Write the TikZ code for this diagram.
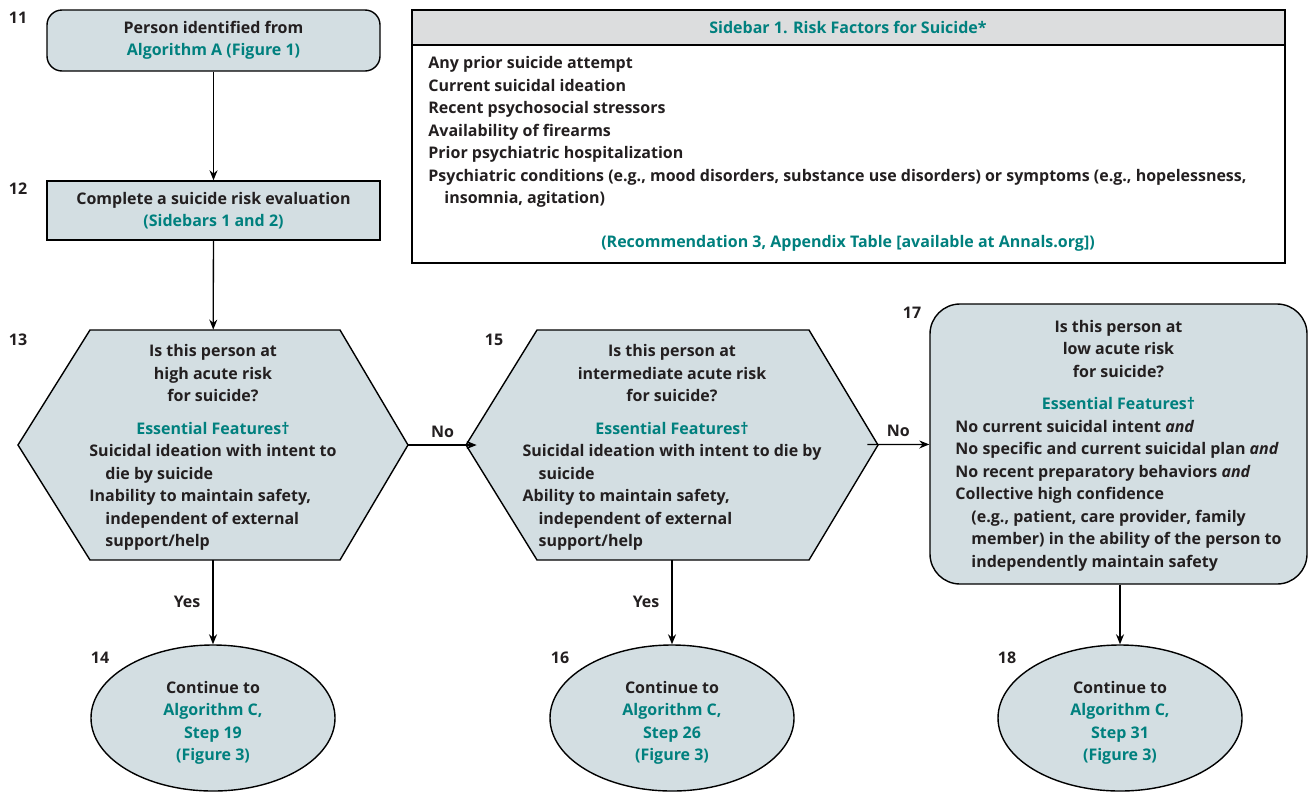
\documentclass[tikz,border=0pt]{standalone}
\usepackage{fontspec}
\setmainfont{Open Sans}
\usetikzlibrary{arrows.meta,shapes.geometric}
\definecolor{boxfill}{RGB}{211,222,226}
\definecolor{headfill}{RGB}{220,221,222}
\definecolor{annteal}{RGB}{0,128,126}
\definecolor{inkgray}{RGB}{35,31,32}
\newcommand{\linkc}[1]{\textcolor{annteal}{#1}}
\newcommand{\toppad}[1]{\rule{0pt}{#1}}

\begin{document}
\begin{tikzpicture}[x=.5pt,y=-.5pt,
  every node/.style={font=\bfseries\fontsize{8}{11.25}\selectfont,text=inkgray,inner sep=0pt},
  box/.style={draw,fill=boxfill,line width=.7pt,align=center,minimum width=166.5pt},
  hexbox/.style={align=center,minimum width=195pt,minimum height=115pt},
  endbox/.style={draw,fill=boxfill,line width=.7pt,ellipse,align=center,
    minimum width=122pt,minimum height=73pt},
  hexfill/.style={draw,fill=boxfill,line width=.7pt},
  arr/.style={-{Stealth[length=5pt,width=4pt]},line width=.65pt}]
  \useasboundingbox (0,0) rectangle (1309,793);

  % step numbers
  \node (l11) at (18,18) {11};
  \node (l12) at (18,189) {12};
  \node (l13) at (18,340) {13};
  \node (l15) at (494,340) {15};
  \node (l17) at (912,313) {17};
  \node (l14) at (100,658) {14};
  \node (l16) at (560,658) {16};
  \node (l18) at (1007,658) {18};

  % top boxes
  \node[box,rounded corners=7.5pt,minimum height=30.5pt] (s11) at (213.5,40.5)
    {Person identified from\\\linkc{Algorithm A (Figure 1)}};
  \node[box,minimum height=29.5pt] (n12) at (213.5,210.5)
    {Complete a suicide risk evaluation\\\linkc{(Sidebars 1 and 2)}};

  % sidebar
  \filldraw[fill=white,line width=.7pt] (412,10) rectangle (1285,263);
  \filldraw[fill=headfill,line width=.7pt] (412,10) rectangle (1285,45);
  \node (sbhead) at (848,27) {\linkc{Sidebar 1. Risk Factors for Suicide*}};
  \node[anchor=north west,align=left] (sblist) at (428,56)
    {Any prior suicide attempt\\
     Current suicidal ideation\\
     Recent psychosocial stressors\\
     Availability of firearms\\
     Prior psychiatric hospitalization\\
     Psychiatric conditions (e.g., mood disorders, substance use disorders) or symptoms (e.g., hopelessness,\\
     \hspace*{8pt}insomnia, agitation)};
  \node (sbfoot) at (848,243)
    {\linkc{(Recommendation 3, Appendix Table [available at Annals.org])}};

  % decision shapes
  \filldraw[hexfill] (18,445) -- (90,330) -- (340,330) -- (408,445)
    -- (340,560) -- (90,560) -- cycle;
  \filldraw[hexfill] (466,445) -- (537,330) -- (809,330) -- (878,445)
    -- (809,560) -- (537,560) -- cycle;

  \node[hexbox] (q13) at (213,445)
    {\toppad{10pt}Is this person at\\high acute risk\\for suicide?\\[5pt]
     \linkc{Essential Features†}\\
     \begin{tabular}[t]{@{}l@{}}
       Suicidal ideation with intent to\\
       \hspace*{8pt}die by suicide\\
       Inability to maintain safety,\\
       \hspace*{8pt}independent of external\\
       \hspace*{8pt}support/help
     \end{tabular}};
  \node[hexbox] (q15) at (672,445)
    {\toppad{10pt}Is this person at\\intermediate acute risk\\for suicide?\\[5pt]
     \linkc{Essential Features†}\\
     \begin{tabular}[t]{@{}l@{}}
       Suicidal ideation with intent to die by\\
       \hspace*{8pt}suicide\\
       Ability to maintain safety,\\
       \hspace*{8pt}independent of external\\
       \hspace*{8pt}support/help
     \end{tabular}};
  \node[box,rounded corners=15pt,minimum width=188.5pt,minimum height=140pt] (n17) at (1118.5,444)
    {\toppad{9pt}Is this person at\\low acute risk\\for suicide?\\[5pt]
     \linkc{Essential Features†}\\
     \begin{tabular}[t]{@{}l@{}}
       No current suicidal intent \textit{and}\\
       No specific and current suicidal plan \textit{and}\\
       No recent preparatory behaviors \textit{and}\\
       Collective high confidence\\
       \hspace*{8pt}(e.g., patient, care provider, family\\
       \hspace*{8pt}member) in the ability of the person to\\
       \hspace*{8pt}independently maintain safety
     \end{tabular}};

  % end points
  \node[endbox] (e14) at (213,718)
    {\toppad{11pt}Continue to\\\linkc{Algorithm C,}\\\linkc{Step 19}\\\linkc{(Figure 3)}};
  \node[endbox] (e16) at (672,718)
    {\toppad{11pt}Continue to\\\linkc{Algorithm C,}\\\linkc{Step 26}\\\linkc{(Figure 3)}};
  \node[endbox] (e18) at (1120,718)
    {\toppad{11pt}Continue to\\\linkc{Algorithm C,}\\\linkc{Step 31}\\\linkc{(Figure 3)}};

  % connectors
  \draw[arr] (s11) -- (n12);
  \draw[arr] (n12) -- (q13);
  \draw[arr] (q13) -- node[above=3.5pt] (no1) {No} (q15);
  \draw[arr] (q15) -- node[above=3.5pt] (no2) {No} (n17);
  \draw[arr] (q13) -- node[left=6pt] (yes1) {Yes} (e14);
  \draw[arr] (q15) -- node[left=6pt] (yes2) {Yes} (e16);
  \draw[arr] (n17.south -| e18) -- (e18);
\end{tikzpicture}
\end{document}
